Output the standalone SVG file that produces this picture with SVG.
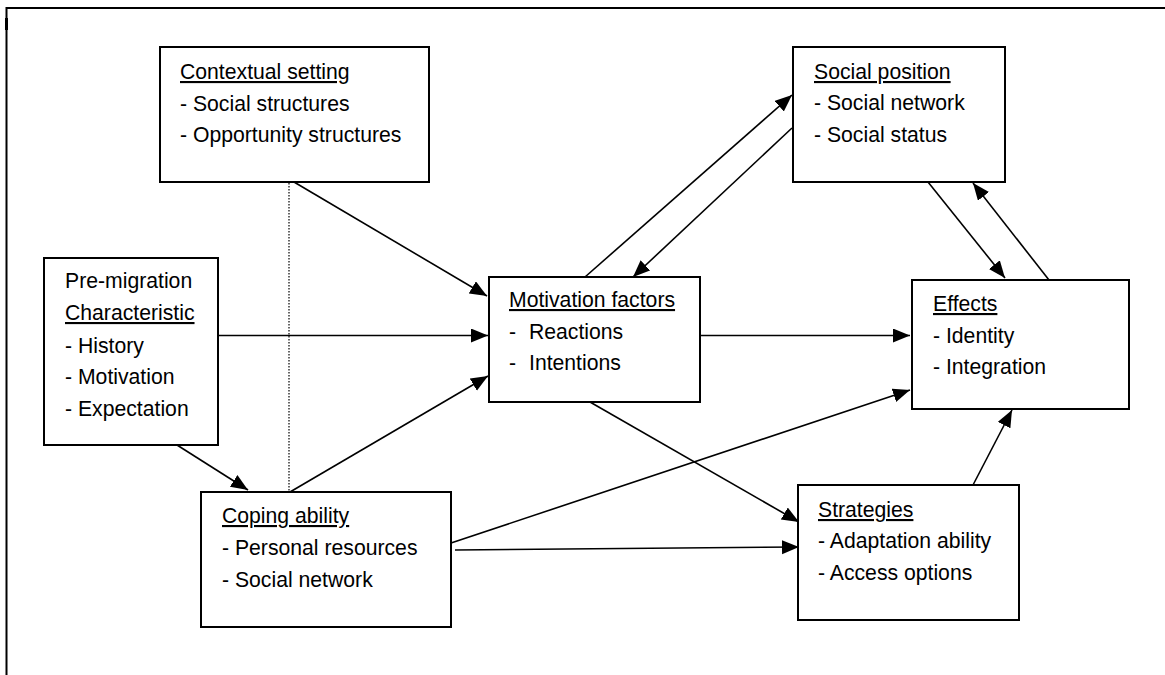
<svg xmlns="http://www.w3.org/2000/svg" width="1165" height="675" viewBox="0 0 1165 675">
<style>
  .box { fill: #ffffff; stroke: #000000; stroke-width: 2; }
  .t { font-family: "Liberation Sans", Arial, sans-serif; font-size: 21.2px; fill: #000000; }
  .u { text-decoration: underline; }
  .c { stroke: #000000; stroke-width: 1.6; fill: none; }
  .dot { stroke: #000000; stroke-width: 1.2; stroke-dasharray: 1.5 1.5; fill: none; }
  .frame { stroke: #000000; stroke-width: 2; fill: none; }
</style>
<defs>
  <marker id="arr" markerUnits="userSpaceOnUse" markerWidth="18" markerHeight="15" refX="17" refY="7" orient="auto">
    <path d="M0,0 L17,7 L0,14 z" fill="#000000"/>
  </marker>
</defs>
<rect width="1165" height="675" fill="#ffffff"/>
<g id="frame">
  <path class="frame" d="M6.5,675 V8 H1165"/>
  <line x1="6.5" y1="18" x2="6.5" y2="30" stroke="#000" stroke-width="3"/>
</g>
<g id="connectors">
  <line class="c" x1="294" y1="182" x2="487" y2="296" marker-end="url(#arr)"/>
  <line class="c" x1="218" y1="335.5" x2="488" y2="335.5" marker-end="url(#arr)"/>
  <line class="c" x1="290" y1="492" x2="488" y2="376" marker-end="url(#arr)"/>
  <line class="c" x1="177" y1="445" x2="248" y2="490" marker-end="url(#arr)"/>
  <line class="dot" x1="289" y1="183" x2="289" y2="492"/>
  <line class="c" x1="585" y1="277" x2="792" y2="95" marker-end="url(#arr)"/>
  <line class="c" x1="792" y1="128" x2="633" y2="277" marker-end="url(#arr)"/>
  <line class="c" x1="697" y1="335.5" x2="910" y2="335.5" marker-end="url(#arr)"/>
  <line class="c" x1="448" y1="544" x2="910" y2="390" marker-end="url(#arr)"/>
  <line class="c" x1="455" y1="550" x2="799" y2="547" marker-end="url(#arr)"/>
  <line class="c" x1="590" y1="402" x2="799" y2="522" marker-end="url(#arr)"/>
  <line class="c" x1="928" y1="182" x2="1005" y2="278" marker-end="url(#arr)"/>
  <line class="c" x1="1049" y1="280" x2="973" y2="183" marker-end="url(#arr)"/>
  <line class="c" x1="973" y1="485" x2="1012" y2="410" marker-end="url(#arr)"/>
</g>
<g id="contextual">
  <rect class="box" x="160" y="47" width="269" height="135"/>
  <text class="t u" x="180" y="79">Contextual setting</text>
  <text class="t" x="180" y="111">- Social structures</text>
  <text class="t" x="180" y="142">- Opportunity structures</text>
</g>
<g id="premigration">
  <rect class="box" x="44" y="258" width="174" height="187"/>
  <text class="t" x="65" y="288">Pre-migration</text>
  <text class="t u" x="65" y="320">Characteristic</text>
  <text class="t" x="65" y="353">- History</text>
  <text class="t" x="65" y="384">- Motivation</text>
  <text class="t" x="65" y="416">- Expectation</text>
</g>
<g id="coping">
  <rect class="box" x="201" y="492" width="250" height="135"/>
  <text class="t u" x="222" y="523">Coping ability</text>
  <text class="t" x="222" y="555">- Personal resources</text>
  <text class="t" x="222" y="587">- Social network</text>
</g>
<g id="motivation">
  <rect class="box" x="489" y="277" width="211" height="125"/>
  <text class="t u" x="509" y="307">Motivation factors</text>
  <text class="t" x="509" y="339">-<tspan x="529">Reactions</tspan></text>
  <text class="t" x="509" y="370">-<tspan x="529">Intentions</tspan></text>
</g>
<g id="socialposition">
  <rect class="box" x="793" y="47" width="212" height="135"/>
  <text class="t u" x="814" y="79">Social position</text>
  <text class="t" x="814" y="110">- Social network</text>
  <text class="t" x="814" y="142">- Social status</text>
</g>
<g id="effects">
  <rect class="box" x="912" y="280" width="217" height="129"/>
  <text class="t u" x="933" y="311">Effects</text>
  <text class="t" x="933" y="343">- Identity</text>
  <text class="t" x="933" y="374">- Integration</text>
</g>
<g id="strategies">
  <rect class="box" x="798" y="485" width="221" height="135"/>
  <text class="t u" x="818" y="517">Strategies</text>
  <text class="t" x="818" y="548">- Adaptation ability</text>
  <text class="t" x="818" y="580">- Access options</text>
</g>
</svg>
